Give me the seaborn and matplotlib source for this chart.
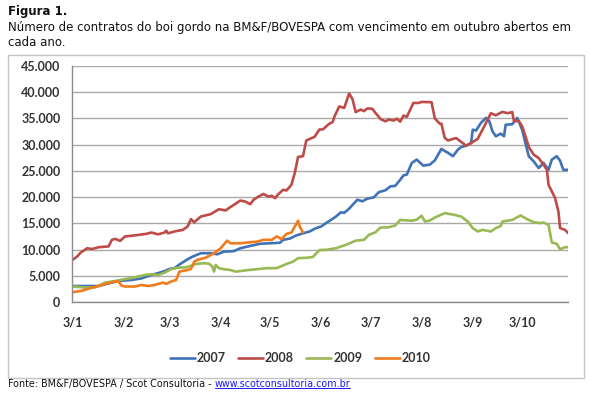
import pandas as pd
import numpy as np
import matplotlib
matplotlib.use("Agg")
import matplotlib.pyplot as plt
from matplotlib.patches import Rectangle
from matplotlib.lines import Line2D
import seaborn as sns

# dias contados a partir de 3/jan, contratos em aberto (outubro)
dias_2007 = [0, 16, 22, 28, 36, 42, 48, 52, 56, 59, 62, 65, 70, 73, 78, 84, 88, 92, 98, 102,
             108, 114, 120, 126, 128, 132, 136, 140, 144, 148, 151, 154, 157, 160, 163, 165, 168, 173, 176, 179,
             183, 186, 190, 193, 196, 199, 201, 203, 206, 209, 213, 217, 220, 224, 226, 228, 231, 234, 236, 239,
             242, 243, 245, 248, 251, 253, 255, 257, 260, 262, 263, 267, 270, 273, 275, 277, 280, 283, 286, 289,
             291, 294, 296, 298, 301]
valores_2007 = [3050, 3050, 3550, 4000, 4200, 4500, 5150, 5500, 5900, 6300, 6450, 7150, 8150, 8650, 9300, 9300, 9100, 9600, 9700, 10250,
                10700, 11100, 11200, 11300, 11850, 12100, 12700, 13100, 13450, 14100, 14400, 15050, 15650, 16300, 17100, 17000, 17800, 19500, 19200, 19700,
                19950, 20950, 21300, 22050, 22150, 23300, 24150, 24300, 26500, 27150, 26000, 26200, 27000, 29200, 28800, 28450, 27800, 29050, 29550, 29800,
                30300, 32850, 32700, 34150, 35100, 34500, 32550, 31600, 32100, 31600, 33800, 33900, 35100, 32850, 30300, 27800, 26800, 25550, 26500, 25200,
                27150, 27800, 26950, 25200, 25200]

dias_2008 = [0, 3, 5, 9, 12, 16, 22, 24, 26, 29, 32, 38, 45, 48, 52, 56, 57, 58, 62, 67,
             70, 72, 74, 78, 84, 89, 93, 95, 102, 105, 108, 110, 113, 116, 119, 121, 123, 125, 128, 130,
             133, 135, 137, 140, 142, 147, 150, 152, 156, 158, 159, 162, 165, 168, 170, 172, 175, 177, 179, 182,
             184, 187, 190, 192, 195, 197, 199, 201, 203, 207, 210, 212, 218, 220, 223, 224, 226, 228, 231, 233,
             235, 237, 239, 242, 246, 250, 254, 257, 261, 264, 267, 268, 271, 273, 275, 277, 280, 283, 286, 288,
             289, 291, 293, 295, 296, 299, 301]
valores_2008 = [8000, 8700, 9400, 10250, 10100, 10450, 10600, 11850, 12050, 11650, 12500, 12700, 13000, 13250, 12900, 13250, 13600, 13100, 13450, 13750,
                14400, 15800, 15200, 16300, 16750, 17700, 17450, 17900, 19350, 19150, 18650, 19500, 20100, 20600, 20100, 20250, 19800, 20550, 21400, 21270,
                22350, 24600, 27650, 27800, 30800, 31500, 32900, 32900, 34000, 34300, 35300, 37300, 37000, 39750, 38700, 36200, 36700, 36400, 36900, 36850,
                36050, 34900, 34450, 34800, 34600, 34950, 34400, 35550, 35300, 37950, 37950, 38150, 38100, 35000, 34000, 34000, 31300, 30800, 31100, 31250,
                30750, 30300, 29800, 30300, 31100, 33500, 36000, 35600, 36250, 36000, 36200, 34500, 34500, 33500, 31600, 29550, 28100, 27450, 26200, 25200,
                22350, 21100, 19800, 17250, 14100, 13750, 13100]

dias_2009 = [0, 8, 14, 20, 26, 32, 38, 44, 48, 52, 56, 60, 64, 69, 72, 75, 80, 83, 85, 86,
             87, 89, 92, 96, 99, 102, 107, 112, 118, 124, 130, 134, 137, 143, 146, 150, 154, 160, 166, 172,
             177, 180, 184, 187, 192, 196, 199, 206, 209, 212, 214, 217, 220, 226, 232, 236, 240, 243, 246, 249,
             254, 257, 260, 261, 264, 267, 272, 276, 280, 284, 286, 289, 291, 294, 296, 299, 301]
valores_2009 = [2950, 2750, 2800, 3700, 4000, 4350, 4700, 5150, 5300, 5150, 5600, 6250, 6550, 6600, 6900, 7250, 7400, 7300, 6750, 5800,
                7050, 6450, 6250, 6100, 5800, 5900, 6100, 6250, 6450, 6450, 7250, 7700, 8350, 8450, 8600, 9900, 9950, 10250, 10900, 11700,
                11850, 12800, 13300, 14200, 14250, 14600, 15650, 15500, 15700, 16450, 15350, 15550, 16100, 16950, 16600, 16300, 15350, 14100, 13450, 13750,
                13450, 14100, 14500, 15350, 15500, 15650, 16500, 15800, 15200, 15050, 15150, 14700, 11350, 11100, 10050, 10450, 10450]

dias_2010 = [0, 6, 12, 16, 20, 26, 28, 30, 32, 38, 42, 46, 50, 55, 57, 60, 63, 65, 70, 72,
             74, 76, 81, 86, 90, 94, 96, 102, 108, 112, 116, 121, 124, 127, 130, 133, 137, 138, 140]
valores_2010 = [1850, 2150, 2750, 3050, 3450, 3900, 3900, 3100, 2950, 2950, 3250, 3050, 3250, 3700, 3450, 3900, 4200, 5800, 6100, 6300,
                7700, 8050, 8450, 9300, 10250, 11700, 11200, 11200, 11400, 11500, 11850, 11850, 12500, 12000, 13000, 13250, 15500, 14400, 13250]

anos = ["2007", "2008", "2009", "2010"]
cores = {"2007": "#3f72b6", "2008": "#be4b48", "2009": "#98b954", "2010": "#f07b1c"}
meses = [1, 2, 3, 4, 5, 6, 7, 8, 9, 10]
rotulos_x = ["3/%d" % m for m in meses]
ticks_y = [0, 5000, 10000, 15000, 20000, 25000, 30000, 35000, 40000, 45000]
rotulos_y = ["0", "5.000", "10.000", "15.000", "20.000", "25.000", "30.000", "35.000", "40.000", "45.000"]

series = {"2007": (dias_2007, valores_2007), "2008": (dias_2008, valores_2008),
          "2009": (dias_2009, valores_2009), "2010": (dias_2010, valores_2010)}

inicio = pd.Timestamp("2010-01-03")
partes = []
for ano in anos:
    d, v = series[ano]
    partes.append(pd.DataFrame({"data": inicio + pd.to_timedelta(d, unit="D"),
                                "contratos": v, "ano": ano}))
df = pd.concat(partes, ignore_index=True)

sns.set_style("white")
plt.rcParams["font.family"] = ["DejaVu Sans"]

W, H = 589, 397
fig = plt.figure(figsize=(W / 100, H / 100), dpi=100)

# moldura do grafico
fig.patches.append(Rectangle((8 / W, 1 - 378 / H), 576 / W, 323 / H, transform=fig.transFigure,
                             fill=False, edgecolor="#c4c4c4", linewidth=1))

ax = fig.add_axes([72.3 / W, 1 - 302 / H, 496 / W, 236 / H])

sns.lineplot(data=df, x="data", y="contratos", hue="ano", palette=cores,
             linewidth=1.9, ax=ax, estimator=None)

ax.set_xlim(inicio, pd.Timestamp("2010-10-31"))
ax.set_ylim(0, 45000)
ax.set_yticks(ticks_y)
ax.set_yticklabels(rotulos_y)
ax.set_xticks([pd.Timestamp(2010, m, 3) for m in meses])
ax.set_xticklabels(rotulos_x)
ax.set_xlabel("")
ax.set_ylabel("")

ax.grid(axis="y", color="#a9a9a9", linewidth=1)
ax.set_axisbelow(True)
for lado in ["top", "right"]:
    ax.spines[lado].set_visible(False)
for lado in ["left", "bottom"]:
    ax.spines[lado].set_color("#8c8c8c")
    ax.spines[lado].set_linewidth(1)

ax.tick_params(axis="both", which="both", length=3.5, width=1, color="#8c8c8c",
               labelcolor="#333333", direction="out")
ax.tick_params(axis="x", pad=7)
ax.tick_params(axis="y", pad=5)
for t in ax.get_xticklabels() + ax.get_yticklabels():
    t.set_fontfamily("Lato")
    t.set_fontweight("bold")
    t.set_fontsize(9)

handles, labels = ax.get_legend_handles_labels()
ax.legend(handles, labels, loc="center", bbox_to_anchor=(300 / W, 1 - 358 / H),
          bbox_transform=fig.transFigure, ncol=4, frameon=False, handlelength=2.0,
          columnspacing=1.0, handletextpad=0.15,
          prop={"family": "Lato", "weight": "bold", "size": 9})
for t in ax.get_legend().get_texts():
    t.set_color("#333333")

# textos de cabecalho e rodape
fig.text(8 / W, 1 - 12 / H, "Figura 1.", fontsize=8.5, fontweight="bold", va="center", color="#111111")
fig.text(8 / W, 1 - 28 / H, "Número de contratos do boi gordo na BM&F/BOVESPA com vencimento em outubro abertos em",
         fontsize=8.5, va="center", color="#111111")
fig.text(8 / W, 1 - 43 / H, "cada ano.", fontsize=8.5, va="center", color="#111111")

t1 = fig.text(8 / W, 1 - 384 / H, "Fonte: BM&F/BOVESPA / Scot Consultoria - ", fontsize=6.9,
              va="center", color="#111111")
fig.canvas.draw()
bb = t1.get_window_extent()
x_url = bb.x1 / W
t2 = fig.text(x_url, 1 - 384 / H, "www.scotconsultoria.com.br", fontsize=6.9, va="center", color="#1a1aff")
fig.canvas.draw()
bb2 = t2.get_window_extent()
fig.add_artist(Line2D([bb2.x0 / W, bb2.x1 / W], [(bb2.y0 + 1) / H, (bb2.y0 + 1) / H],
                      transform=fig.transFigure, color="#1a1aff", linewidth=0.7))

fig.savefig("out.png", dpi=100)
